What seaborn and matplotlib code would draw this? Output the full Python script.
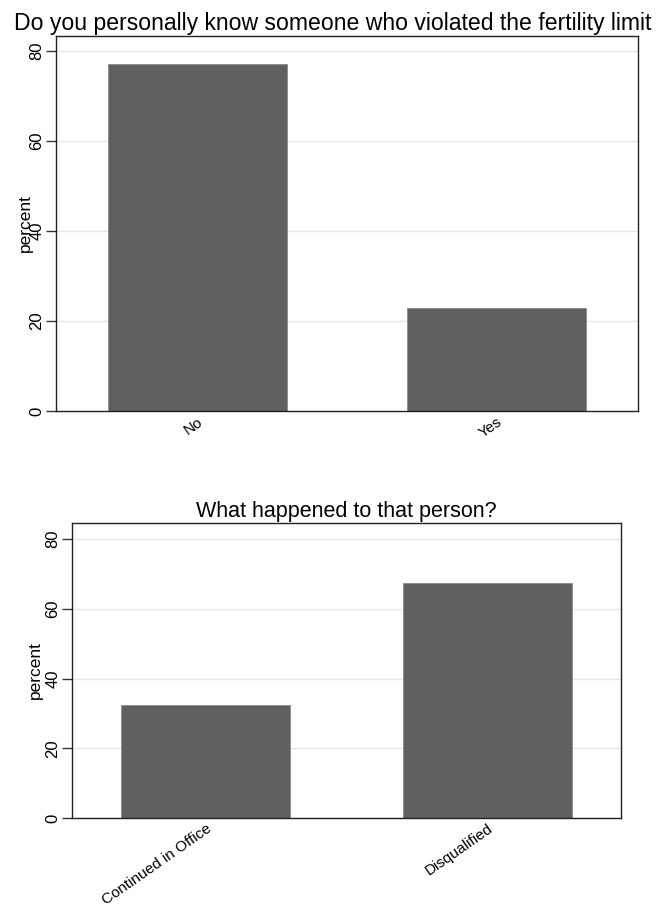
import seaborn as sb
import matplotlib.pyplot as plt
import pandas as pd

# top panel
know_cats = ["No", "Yes"]
know_pct = [77.1, 22.9]

# bottom panel
outcome_cats = ["Continued in Office", "Disqualified"]
outcome_pct = [32.5, 67.5]

yticks = [0, 20, 40, 60, 80]

sb.set_theme(style="white")
plt.rcParams["font.family"] = ["Liberation Sans", "DejaVu Sans"]
for key in ["text.color", "axes.labelcolor", "xtick.color", "ytick.color"]:
    plt.rcParams[key] = "black"

fig = plt.figure(figsize=(6.57, 9.05), dpi=100)
ax1 = fig.add_axes([56 / 657, 1 - 411 / 905, 582 / 657, 375 / 905])
ax2 = fig.add_axes([72 / 657, 1 - 818 / 905, 549 / 657, 295 / 905])

bar_color = "#606060"


def draw(ax, cats, vals, ylim, title, title_size):
    df = pd.DataFrame({"cat": cats, "pct": vals})
    sb.barplot(data=df, x="cat", y="pct", color=bar_color, width=0.6,
               saturation=1, edgecolor="#8a8a8a", linewidth=0.6, ax=ax)
    ax.set_xlim(-0.475, 1.475)
    ax.set_ylim(0, ylim)
    ax.set_yticks(yticks)
    ax.set_yticklabels([str(t) for t in yticks], rotation=90, va="center",
                       fontsize=12)
    for t in yticks[1:]:
        ax.axhline(t, color="#e6e6e6", linewidth=1, zorder=0)
    ax.set_axisbelow(True)
    ax.tick_params(axis="y", left=True, length=7, width=1, color="#333333",
                   pad=1.5)
    ax.tick_params(axis="x", bottom=False, length=0, pad=2.5)
    ax.set_xticks(range(len(cats)))
    ax.set_xticklabels(cats, rotation=35, ha="right", rotation_mode="anchor",
                       fontsize=11)
    for s in ax.spines.values():
        s.set_color("#222222")
        s.set_linewidth(1)
    ax.set_xlabel("")
    ax.set_ylabel("percent", fontsize=12.5)
    ax.set_title(title, fontsize=title_size, pad=4)


draw(ax1, know_cats, know_pct, 83.3,
     "Do you personally know someone who violated the fertility limit", 16.6)
ax1.yaxis.set_label_coords(-23 / 582, 0.5)
ax1.title.set_position(((332.5 - 56) / 582, 1.0))

draw(ax2, outcome_cats, outcome_pct, 84.6, "What happened to that person?",
     15.5)
ax2.yaxis.set_label_coords(-29 / 549, 0.5)

fig.savefig("out.png", dpi=100)
